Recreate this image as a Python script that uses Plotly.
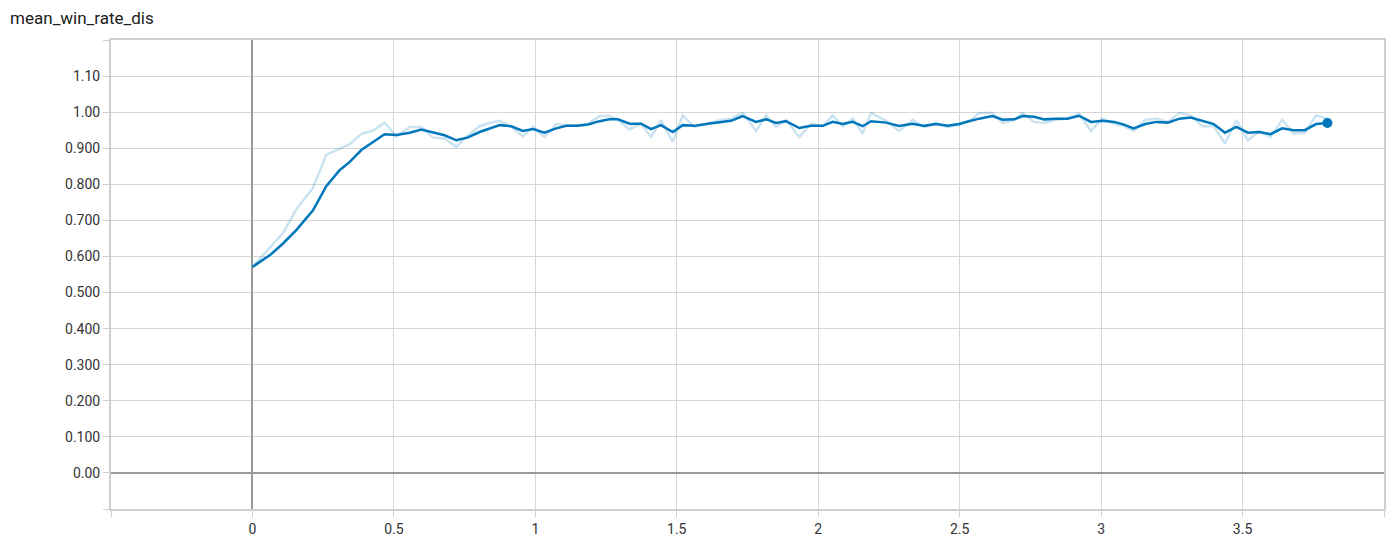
import plotly.graph_objects as go

# step values (x) shared by both series
steps = [
    0, 0.061, 0.108, 0.155, 0.214, 0.261, 0.308, 0.344, 0.385, 0.426, 0.467,
    0.509, 0.556, 0.597, 0.638, 0.679, 0.721, 0.762, 0.803, 0.838, 0.874, 0.915,
    0.956, 0.992, 1.032, 1.074, 1.109, 1.150, 1.186, 1.227, 1.262, 1.292, 1.333, 1.374,
    1.409, 1.444, 1.486, 1.521, 1.562, 1.610, 1.657, 1.692, 1.733, 1.780, 1.816,
    1.851, 1.886, 1.933, 1.975, 2.016, 2.051, 2.087, 2.122, 2.157, 2.187, 2.240,
    2.286, 2.334, 2.375, 2.416, 2.457, 2.498, 2.539, 2.569, 2.616, 2.652, 2.693,
    2.722, 2.763, 2.799, 2.840, 2.881, 2.922, 2.964, 3.005, 3.046, 3.078,
    3.115, 3.156, 3.196, 3.236, 3.277, 3.317, 3.357, 3.398, 3.438, 3.478, 3.519,
    3.559, 3.599, 3.640, 3.680, 3.720, 3.760, 3.800,
]

win_rate_raw = [
    0.571, 0.624, 0.665, 0.730, 0.790, 0.882, 0.898, 0.911, 0.940, 0.949, 0.971,
    0.933, 0.959, 0.959, 0.930, 0.927, 0.904, 0.936, 0.961, 0.970, 0.976, 0.959,
    0.933, 0.959, 0.931, 0.967, 0.964, 0.964, 0.968, 0.989, 0.989, 0.979, 0.952, 0.968,
    0.931, 0.978, 0.918, 0.991, 0.959, 0.968, 0.978, 0.982, 0.998, 0.948, 0.991,
    0.959, 0.978, 0.931, 0.968, 0.961, 0.991, 0.961, 0.982, 0.941, 0.998, 0.976,
    0.948, 0.979, 0.959, 0.970, 0.959, 0.964, 0.978, 0.998, 0.998, 0.970, 0.978,
    0.998, 0.973, 0.970, 0.979, 0.982, 0.996, 0.948, 0.982, 0.968, 0.962,
    0.948, 0.979, 0.982, 0.973, 0.998, 0.991, 0.961, 0.961, 0.913, 0.978, 0.922,
    0.948, 0.931, 0.979, 0.941, 0.943, 0.991, 0.982,
]

win_rate_smooth = [
    0.571, 0.603, 0.636, 0.673, 0.728, 0.795, 0.839, 0.862, 0.895, 0.918, 0.939,
    0.937, 0.943, 0.952, 0.943, 0.936, 0.922, 0.930, 0.945, 0.955, 0.964, 0.961,
    0.948, 0.953, 0.943, 0.955, 0.962, 0.962, 0.966, 0.975, 0.980, 0.980, 0.968, 0.968,
    0.953, 0.964, 0.945, 0.964, 0.962, 0.968, 0.973, 0.976, 0.989, 0.973, 0.980,
    0.970, 0.975, 0.956, 0.962, 0.962, 0.973, 0.967, 0.973, 0.961, 0.975, 0.971,
    0.962, 0.968, 0.962, 0.967, 0.962, 0.967, 0.976, 0.982, 0.989, 0.979, 0.980,
    0.989, 0.987, 0.980, 0.982, 0.982, 0.990, 0.973, 0.976, 0.973, 0.966,
    0.955, 0.967, 0.973, 0.971, 0.982, 0.985, 0.976, 0.967, 0.943, 0.959, 0.943,
    0.945, 0.939, 0.955, 0.950, 0.950, 0.967, 0.970,
]

x_ticks = [-0.5, 0, 0.5, 1, 1.5, 2, 2.5, 3, 3.5, 4.0]
x_labels = ["", "0", "0.5", "1", "1.5", "2", "2.5", "3", "3.5", ""]
y_ticks = [-0.1, 0, 0.1, 0.2, 0.3, 0.4, 0.5, 0.6, 0.7, 0.8, 0.9, 1.0, 1.1, 1.2]
y_labels = ["", "0.00", "0.100", "0.200", "0.300", "0.400", "0.500", "0.600",
            "0.700", "0.800", "0.900", "1.00", "1.10", ""]

blue = "#0077bb"

fig = go.Figure()

# raw values, faint
fig.add_trace(go.Scatter(x=steps, y=win_rate_raw, mode="lines",
                         line=dict(color=blue, width=2.5), opacity=0.2,
                         hoverinfo="skip", showlegend=False))
# smoothed line
fig.add_trace(go.Scatter(x=steps, y=win_rate_smooth, mode="lines",
                         line=dict(color=blue, width=2.5), showlegend=False))
# last point marker
fig.add_trace(go.Scatter(x=steps[-1:], y=win_rate_smooth[-1:], mode="markers",
                         marker=dict(color=blue, size=10), showlegend=False))

fig.update_layout(
    width=1396, height=541,
    margin=dict(l=103, r=20, t=32, b=29),
    plot_bgcolor="white", paper_bgcolor="white",
    font=dict(family="Roboto, sans-serif", size=14, color="#333333"),
    title=dict(text="mean_win_rate_dis", x=0.0015, xanchor="left", y=0.981, yanchor="middle",
               font=dict(size=17, color="#212121")),
    xaxis=dict(range=[-0.5, 4.0], tickvals=x_ticks, ticktext=x_labels,
               showgrid=True, gridcolor="#d6d6d6", gridwidth=1,
               zeroline=True, zerolinecolor="#999999", zerolinewidth=2,
               showline=True, linecolor="#d0d0d0", linewidth=2, mirror=True,
               ticks="outside", ticklen=6, tickcolor="#d0d0d0", tickwidth=1,
               tickfont=dict(size=14, color="#333333")),
    yaxis=dict(range=[-0.1, 1.2], tickvals=y_ticks, ticktext=y_labels,
               showgrid=True, gridcolor="#d6d6d6", gridwidth=1,
               zeroline=True, zerolinecolor="#999999", zerolinewidth=2,
               showline=True, linecolor="#d0d0d0", linewidth=2, mirror=True,
               ticks="outside", ticklen=6, tickcolor="#d0d0d0", tickwidth=1,
               tickfont=dict(size=14, color="#333333")),
)

fig.write_html("out.html")
